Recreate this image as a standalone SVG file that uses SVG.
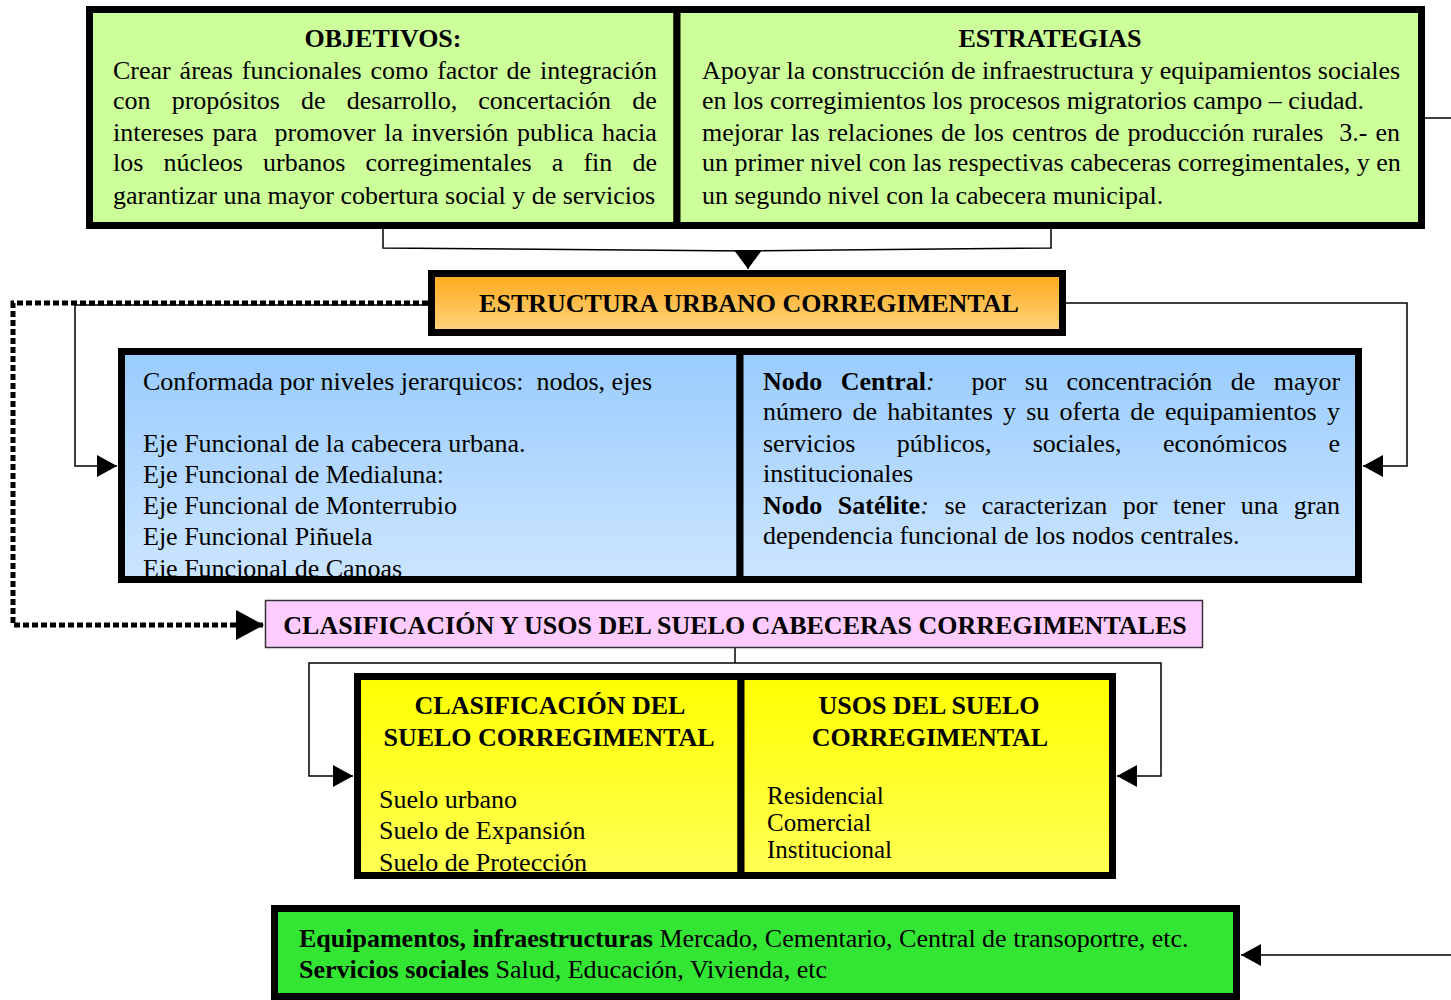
<svg xmlns="http://www.w3.org/2000/svg" width="1451" height="1000" viewBox="0 0 1451 1000">
<style>
.t{font-family:"Liberation Serif","Times New Roman",serif;font-size:26px;fill:#000}
.s{font-size:25px}
.b{font-weight:bold}
.i{font-style:italic}
.pre{white-space:pre}
.c{text-anchor:middle}
.frame{fill:none;stroke:#000;stroke-width:7}
.conn{fill:none;stroke:#000;stroke-width:1.5}
.dot{fill:none;stroke:#000;stroke-width:5;stroke-dasharray:6 3}
</style>
<defs>
<linearGradient id="gBlue" x1="0" y1="0" x2="0" y2="1"><stop offset="0" stop-color="#99CCFF"/><stop offset="1" stop-color="#CCE5FF"/></linearGradient>
<linearGradient id="gOrange" x1="0" y1="0" x2="0" y2="1"><stop offset="0" stop-color="#FFA81A"/><stop offset="1" stop-color="#FFD580"/></linearGradient>
<linearGradient id="gYellow" x1="0" y1="0" x2="0" y2="1"><stop offset="0" stop-color="#FFFF00"/><stop offset="1" stop-color="#FFFF55"/></linearGradient>
<marker id="arr" markerUnits="userSpaceOnUse" markerWidth="20" markerHeight="22" refX="20" refY="11" orient="auto"><path d="M0,0 L20,11 L0,22 z" fill="#000"/></marker>
<marker id="arrBig" markerUnits="userSpaceOnUse" markerWidth="28" markerHeight="30" refX="28" refY="15" orient="auto"><path d="M0,0 L28,15 L0,30 z" fill="#000"/></marker>
<marker id="arrTop" markerUnits="userSpaceOnUse" markerWidth="19" markerHeight="28" refX="19" refY="14" orient="auto"><path d="M0,0 L19,14 L0,28 z" fill="#000"/></marker>
</defs>

<g id="connectors">
<path class="conn" d="M383 229 V248 L748 251"/>
<path class="conn" d="M1051 229 V248 L748 251"/>
<path class="conn" d="M748 251 V269" marker-end="url(#arrTop)"/>
<path class="conn" d="M1066 303 H1407 V466 H1363" marker-end="url(#arr)"/>
<path class="conn" d="M428 305 H75 V466 H117" marker-end="url(#arr)"/>
<path class="dot" d="M428 303 H13 V625 H264" marker-end="url(#arrBig)"/>
<path class="conn" d="M735 647 V663"/>
<path class="conn" d="M735 663 H309 V776 H353" marker-end="url(#arr)"/>
<path class="conn" d="M735 663 H1161 V776 H1117" marker-end="url(#arr)"/>
<path class="conn" d="M1425 118 H1451"/>
<path class="conn" d="M1451 955 H1241" marker-end="url(#arr)"/>
</g>

<g id="objetivos">
<rect x="89.5" y="9.5" width="587.5" height="216" fill="#CCFF99"/>
<text class="t b c" x="383" y="47">OBJETIVOS:</text>
<text class="t" x="113" y="79" style="word-spacing:2.35px">Crear áreas funcionales como factor de integración</text>
<text class="t" x="113" y="109" style="word-spacing:14.6px">con propósitos de desarrollo, concertación de</text>
<text class="t pre" x="113" y="141" style="word-spacing:2.1px">intereses para  promover la inversión publica hacia</text>
<text class="t" x="113" y="171" style="word-spacing:13.65px">los núcleos urbanos corregimentales a fin de</text>
<text class="t" x="113" y="204">garantizar una mayor cobertura social y de servicios</text>
<rect class="frame" x="89.5" y="9.5" width="587.5" height="216"/>
</g>

<g id="estrategias">
<rect x="677" y="9.5" width="744.5" height="216" fill="#CCFF99"/>
<text class="t b c" x="1050" y="47">ESTRATEGIAS</text>
<text class="t" x="702" y="79">Apoyar la construcción de infraestructura y equipamientos sociales</text>
<text class="t" x="702" y="109">en los corregimientos los procesos migratorios campo – ciudad.</text>
<text class="t pre" x="702" y="141" style="word-spacing:1.5px">mejorar las relaciones de los centros de producción rurales  3.- en</text>
<text class="t" x="702" y="171">un primer nivel con las respectivas cabeceras corregimentales, y en</text>
<text class="t" x="702" y="204">un segundo nivel con la cabecera municipal.</text>
<rect class="frame" x="677" y="9.5" width="744.5" height="216"/>
</g>

<g id="estructura">
<rect x="431.5" y="273.5" width="631" height="59" fill="url(#gOrange)"/>
<text class="t b c" x="749" y="312">ESTRUCTURA URBANO CORREGIMENTAL</text>
<rect class="frame" x="431.5" y="273.5" width="631" height="59"/>
</g>

<g id="ejes">
<rect x="121.5" y="351.5" width="618.5" height="228" fill="url(#gBlue)"/>
<text class="t pre" x="143" y="390">Conformada por niveles jerarquicos:  nodos, ejes</text>
<text class="t" x="143" y="452">Eje Funcional de la cabecera urbana.</text>
<text class="t" x="143" y="483">Eje Funcional de Medialuna:</text>
<text class="t" x="143" y="514">Eje Funcional de Monterrubio</text>
<text class="t" x="143" y="545">Eje Funcional Piñuela</text>
<text class="t" x="143" y="577">Eje Funcional de Canoas</text>
<rect class="frame" x="121.5" y="351.5" width="618.5" height="228"/>
</g>

<g id="nodos">
<rect x="740" y="351.5" width="618.5" height="228" fill="url(#gBlue)"/>
<text class="t pre" x="763" y="390" style="word-spacing:12px"><tspan class="b">Nodo Central</tspan><tspan class="i">:</tspan>  por su concentración de mayor</text>
<text class="t" x="763" y="420" style="word-spacing:3.7px">número de habitantes y su oferta de equipamientos y</text>
<text class="t" x="763" y="452" style="word-spacing:34.85px">servicios públicos, sociales, económicos e</text>
<text class="t" x="763" y="482">institucionales</text>
<text class="t" x="763" y="514" style="word-spacing:9.1px"><tspan class="b">Nodo Satélite</tspan><tspan class="i">:</tspan> se caracterizan por tener una gran</text>
<text class="t" x="763" y="544">dependencia funcional de los nodos centrales.</text>
<rect class="frame" x="740" y="351.5" width="618.5" height="228"/>
</g>

<g id="clasificacion-usos">
<rect x="265.5" y="600.5" width="937" height="47" fill="#FFCCFF" stroke="#333" stroke-width="1.5"/>
<text class="t b c" x="735" y="634">CLASIFICACIÓN Y USOS DEL SUELO CABECERAS CORREGIMENTALES</text>
</g>

<g id="clasificacion-suelo">
<rect x="357.5" y="676.5" width="383.5" height="199" fill="url(#gYellow)"/>
<text class="t b c" x="550" y="714">CLASIFICACIÓN DEL</text>
<text class="t b c" x="549" y="746">SUELO CORREGIMENTAL</text>
<text class="t" x="379" y="808">Suelo urbano</text>
<text class="t" x="379" y="839">Suelo de Expansión</text>
<text class="t" x="379" y="871">Suelo de Protección</text>
<rect class="frame" x="357.5" y="676.5" width="383.5" height="199"/>
</g>

<g id="usos-suelo">
<rect x="741" y="676.5" width="371.5" height="199" fill="url(#gYellow)"/>
<text class="t b c" x="929" y="714">USOS DEL SUELO</text>
<text class="t b c" x="930" y="746">CORREGIMENTAL</text>
<text class="t s" x="767" y="804">Residencial</text>
<text class="t s" x="767" y="831">Comercial</text>
<text class="t s" x="767" y="858">Institucional</text>
<rect class="frame" x="741" y="676.5" width="371.5" height="199"/>
</g>

<g id="equipamientos">
<rect x="274.5" y="908.5" width="962" height="88" fill="#33E633"/>
<text class="t" x="299" y="947"><tspan class="b">Equipamentos, infraestructuras</tspan> Mercado, Cementario, Central de transoportre, etc.</text>
<text class="t" x="299" y="978"><tspan class="b">Servicios sociales</tspan> Salud, Educación, Vivienda, etc</text>
<rect class="frame" x="274.5" y="908.5" width="962" height="88"/>
</g>
</svg>
